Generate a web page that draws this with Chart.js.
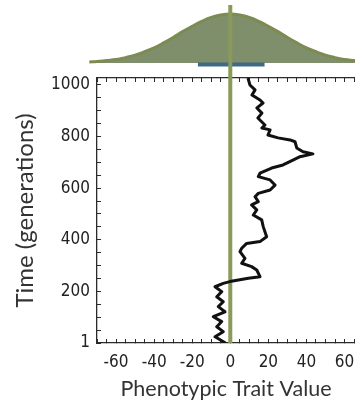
<!DOCTYPE html>
<html lang="en">
<head>
	<meta charset="UTF-8">
	<script src="https://cdn.jsdelivr.net/npm/chart.js"></script>
	<title>Phenotypic trait over time</title>
	<style>
		html, body { margin: 0; padding: 0; background: #fff; overflow: hidden; }
		#wrap { position: relative; width: 355px; height: 404px; }
		#wrap canvas { position: absolute; left: 0; top: 0; }
	</style>
</head>
<body>
	<div id="wrap">
		<canvas id="mainChart" width="355" height="404"></canvas>
		<canvas id="bellChart" width="355" height="78"></canvas>
	</div>
	<script>
		// random walk, generations (ascending) and trait value
		const generations = [0, 24, 44, 63, 83, 102, 121, 141, 160, 179, 199, 218, 231, 238, 251, 257, 283, 296, 309, 328, 354, 367, 386, 393, 412, 431, 451, 477, 496, 516, 535, 548, 567, 580, 593, 612, 632, 645, 658, 678, 690, 709, 722, 733, 741, 756, 780, 787, 795, 806, 826, 833, 845, 872, 891, 911, 930, 942, 961, 981, 1000, 1027];
		const traitValues = [-2.5, -8.0, -3.7, -7.1, -4.5, -8.9, -2.8, -6.3, -3.7, -7.1, -4.5, -8.0, -3.7, -0.2, 9.5, 15.6, 13.9, 11.2, 6.0, 7.7, 5.1, 6.0, 8.6, 15.6, 19.1, 18.2, 17.3, 16.5, 12.1, 13.9, 11.2, 14.7, 13.0, 14.7, 20.9, 23.5, 20.9, 14.7, 15.6, 21.7, 27.7, 32.9, 36.6, 43.4, 38.2, 34.9, 34.0, 31.4, 25.1, 19.8, 20.9, 16.6, 18.2, 14.5, 16.6, 14.0, 17.2, 15.6, 11.4, 13.0, 10.3, 9.3];

		// distribution above the plot (relative height)
		const bellX = [-74, -70, -65, -60, -55, -50, -45, -40, -35, -30, -25, -20, -15, -10, -5, 0, 5, 10, 15, 20, 25, 30, 35, 40, 45, 50, 55, 60, 65, 70];
		const bellY = [0.02, 0.03, 0.05, 0.07, 0.11, 0.16, 0.23, 0.31, 0.41, 0.52, 0.64, 0.75, 0.85, 0.93, 0.98, 1.0, 0.98, 0.93, 0.85, 0.75, 0.64, 0.52, 0.41, 0.31, 0.23, 0.16, 0.11, 0.07, 0.05, 0.03];
		const spreadRange = [-17, 18];
		const optimum = 0;

		const xTickLabels = [-60, -40, -20, 0, 20, 40, 60];
		const yTickLabels = [200, 400, 600, 800, 1000];

		const olive = '#8a9a5b';
		const axisColor = '#2b2b2b';
		const tickFont = { family: "'Liberation Sans Narrow', 'DejaVu Sans Condensed', sans-serif", size: 17 };

		// keep the plot box exactly where the picture has it
		const noSidePad = s => { s.paddingLeft = 0; s.paddingRight = 0; };

		new Chart(document.getElementById('mainChart'), {
			type: 'scatter',
			data: {
				datasets: [
					{
						data: generations.map((g, i) => ({ x: traitValues[i], y: g })),
						showLine: true,
						borderColor: '#111',
						borderWidth: 3,
						borderJoinStyle: 'round',
						pointRadius: 0,
						order: 0
					},
					{
						data: [{ x: optimum, y: 0 }, { x: optimum, y: 1027 }],
						showLine: true,
						borderColor: olive,
						borderWidth: 4,
						pointRadius: 0,
						order: 1
					}
				]
			},
			options: {
				responsive: false,
				animation: false,
				layout: { autoPadding: false, padding: { top: 78, left: 0, right: 0, bottom: 0 } },
				plugins: { legend: { display: false }, tooltip: { enabled: false } },
				scales: {
					x: {
						type: 'linear',
						min: -70,
						max: 65.5,
						afterFit: s => { s.height = 61; noSidePad(s); },
						grid: { drawOnChartArea: false, drawTicks: true, tickLength: -4, tickColor: axisColor },
						border: { display: true, color: axisColor, width: 1.3 },
						ticks: {
							stepSize: 5,
							autoSkip: false,
							includeBounds: false,
							maxRotation: 0,
							padding: 13,
							color: '#222',
							font: tickFont,
							callback: v => xTickLabels.includes(v) ? String(v) : ''
						},
						title: { display: true, text: 'Phenotypic Trait Value', color: '#333', font: { family: "Lato, 'Open Sans', sans-serif", size: 21.5 }, padding: { top: 0, bottom: 2 } }
					},
					x2: {
						type: 'linear',
						position: 'top',
						min: -70,
						max: 65.5,
						afterFit: s => { s.height = 0; noSidePad(s); },
						grid: { drawOnChartArea: false, drawTicks: true, tickLength: -4, tickColor: axisColor },
						border: { display: true, color: axisColor, width: 1.3 },
						ticks: { stepSize: 5, autoSkip: false, includeBounds: false, display: false }
					},
					y: {
						type: 'linear',
						min: 0,
						max: 1027,
						afterFit: s => { s.width = 97; },
						grid: { drawOnChartArea: false, drawTicks: true, tickLength: -4, tickColor: axisColor },
						border: { display: true, color: axisColor, width: 1.3 },
						ticks: {
							stepSize: 50,
							autoSkip: false,
							includeBounds: false,
							padding: 11,
							color: '#222',
							font: tickFont,
							callback: v => v === 0 ? '1' : (yTickLabels.includes(v) ? String(v) : '')
						},
						title: { display: true, text: 'Time (generations)', color: '#333', font: { family: "Lato, 'Open Sans', sans-serif", size: 24 }, padding: { top: 11, bottom: 0 } }
					}
				}
			}
		});

		new Chart(document.getElementById('bellChart'), {
			type: 'scatter',
			data: {
				datasets: [
					{
						data: [{ x: optimum, y: -0.31 }, { x: optimum, y: 1.184 }],
						showLine: true,
						borderColor: olive,
						borderWidth: 4,
						pointRadius: 0,
						order: 0
					},
					{
						data: [{ x: spreadRange[0], y: -0.031 }, { x: spreadRange[1], y: -0.031 }],
						showLine: true,
						borderColor: '#3e6a86',
						borderWidth: 4,
						pointRadius: 0,
						order: 1
					},
					{
						data: bellX.map((x, i) => ({ x: x, y: bellY[i] })),
						showLine: true,
						fill: 'origin',
						tension: 0.4,
						borderColor: '#7b8b52',
						backgroundColor: '#7f8f6c',
						borderWidth: 3,
						pointRadius: 0,
						order: 2
					}
				]
			},
			options: {
				responsive: false,
				animation: false,
				layout: { autoPadding: false, padding: { top: 0, left: 87.48, right: 0, bottom: 0 } },
				plugins: { legend: { display: false }, tooltip: { enabled: false } },
				scales: {
					x: { type: 'linear', min: -75, max: 65.5, display: false },
					y: { type: 'linear', min: -0.306, max: 1.286, display: false }
				}
			}
		});
	</script>
</body>
</html>
